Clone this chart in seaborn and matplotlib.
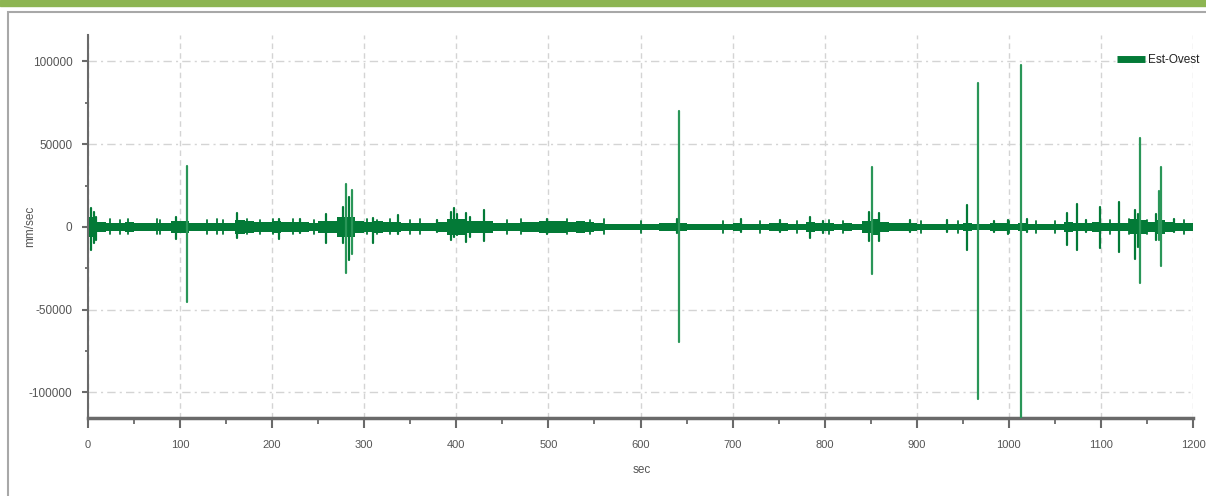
import numpy as np
import pandas as pd
import matplotlib
matplotlib.use('Agg')
import matplotlib.pyplot as plt
from matplotlib.lines import Line2D
from matplotlib.patches import Rectangle
from matplotlib.ticker import MultipleLocator
import seaborn as sns

# half-width of the background noise band, one value per 10 s bin (mm/sec)
bin_start = list(range(0, 1200, 10))
band_half = [
    6000, 3000, 2500, 2500, 3000, 2500, 2500, 2500, 2500, 3500,
    3500, 2500, 2500, 2500, 2500, 2500, 4000, 3500, 3000, 3000,
    3500, 3000, 3000, 3000, 2500, 3500, 3500, 6000, 6000, 3500,
    3000, 3500, 3000, 3000, 2500, 2500, 2500, 2500, 3000, 5000,
    5000, 3500, 3500, 3500, 2500, 2500, 2500, 3000, 3000, 3500,
    3500, 3500, 3000, 3500, 3000, 2500, 2000, 2000, 2000, 2000,
    2000, 2000, 2500, 2500, 2500, 2000, 2000, 2000, 2000, 2000,
    2500, 2000, 2000, 2000, 2500, 2500, 2000, 2000, 3000, 2500,
    2500, 2000, 2500, 2000, 3500, 5000, 3000, 2500, 2500, 2500,
    2000, 2000, 2000, 2000, 2000, 2500, 2000, 2000, 2500, 2500,
    2000, 2500, 2000, 2000, 2000, 2000, 3000, 2500, 2500, 3000,
    2500, 2500, 2500, 4500, 4000, 3000, 4000, 3000, 2500, 2500,
]

# bursts and spikes: time (sec), peak and trough (mm/sec)
event_sec = [3, 6, 9, 96, 107, 162, 207, 230, 259, 277, 280, 283, 287, 310,
             337, 379, 394, 397, 401, 410, 415, 430, 499, 640, 642, 709, 752,
             784, 798, 848, 851, 859, 893, 933, 955, 967, 984, 999, 1013, 1020,
             1063, 1074, 1084, 1099, 1120, 1137, 1140, 1142, 1160, 1163, 1165,
             1179]
event_max = [11500, 9000, 6000, 6000, 37000, 8500, 5000, 5000, 8000, 12000,
             26000, 18000, 22500, 5500, 7000, 4000, 9000, 11500, 8000, 8500,
             6000, 10000, 5000, 5000, 70000, 4500, 4000, 6000, 3500, 9000,
             36000, 8500, 4000, 4000, 13300, 87000, 3500, 4000, 98000, 5000,
             8500, 14000, 4000, 12000, 15000, 10000, 8000, 54000, 8000, 22000,
             36000, 5000]
event_min = [-14000, -10000, -8000, -7500, -45500, -6500, -7500, -3500, -9500,
             -10000, -28000, -20000, -16500, -9500, -4000, -3000, -8000, -6000,
             -5000, -9000, -6000, -8500, -4000, -3500, -69500, -3000, -3000,
             -6500, -3500, -8500, -28500, -8500, -3000, -3000, -14000, -104000,
             -3000, -4000, -118000, -3000, -11000, -14000, -3000, -12600,
             -15000, -19500, -12000, -34000, -8000, -8000, -23500, -3000]

# small bumps on the band
bump_sec = [24, 35, 43, 75, 78, 129, 140, 147, 173, 187, 201, 223, 245, 303,
            314, 328, 350, 361, 455, 470, 520, 545, 560, 600, 690, 730, 770,
            805, 820, 905, 945, 1000, 1030, 1050, 1110, 1130, 1150, 1190]
bump_amp = [4500, 4000, 4500, 4500, 4000, 4000, 4500, 4000, 4500, 4000, 4500,
            4500, 4000, 4500, 4000, 4500, 4000, 4500, 4000, 4500, 4500, 4000,
            4500, 3500, 3500, 3500, 3500, 4000, 3500, 3500, 3500, 3500, 3500,
            3500, 4000, 4500, 4000, 4000]

band_color = '#037a37'
spike_color = '#2a9658'
axis_color = '#6a6a6a'
text_color = '#555555'
grid_color = '#d4d4d4'

sns.set_theme(style='white')
plt.rcParams['font.family'] = ['Liberation Sans', 'DejaVu Sans']
plt.rcParams['axes.unicode_minus'] = False

n_ev = len(event_sec)
events = pd.DataFrame({
    'event': np.repeat(np.arange(n_ev), 2),
    'sec': np.repeat(event_sec, 2),
    'value': np.column_stack([event_min, event_max]).ravel(),
})
peak = np.maximum(np.array(event_max), -np.array(event_min))
events['big'] = np.repeat(peak > 20000, 2)

n_b = len(bump_sec)
bumps = pd.DataFrame({
    'event': np.repeat(np.arange(n_b), 2),
    'sec': np.repeat(bump_sec, 2),
    'value': np.column_stack([-np.array(bump_amp), np.array(bump_amp)]).ravel(),
})

fig = plt.figure(figsize=(12.06, 4.96), dpi=100)
fig.patch.set_facecolor('white')

# page decoration: green band and grey frame
fig.patches.append(Rectangle((0, 1 - 6 / 496), 1, 6 / 496, transform=fig.transFigure,
                             color='#8db552', zorder=0))
fig.patches.append(Rectangle((8 / 1206, -0.05), 1.1, 1.05 - 12 / 496, transform=fig.transFigure,
                             fill=False, edgecolor='#a8a8a8', lw=1.5, zorder=0))

ax = fig.add_axes([88 / 1206, 1 - 418 / 496, (1193 - 88) / 1206, (418 - 35) / 496])
ax.set_facecolor('none')

edges = np.append(bin_start, 1200)
half = np.append(band_half, band_half[-1])
ax.fill_between(edges, -half, half, step='post', color=band_color, lw=0, zorder=2)

sns.lineplot(data=bumps, x='sec', y='value', units='event', estimator=None,
             color=band_color, lw=1.3, ax=ax, legend=False, zorder=3)
sns.lineplot(data=events[~events['big']], x='sec', y='value', units='event', estimator=None,
             color=band_color, lw=1.6, ax=ax, legend=False, zorder=3)
sns.lineplot(data=events[events['big']], x='sec', y='value', units='event', estimator=None,
             color=spike_color, lw=1.6, ax=ax, legend=False, zorder=4)

ax.set_xlim(0, 1200)
ax.set_ylim(-115500, 116000)
ax.set_xticks(range(0, 1201, 100))
ax.set_yticks([-100000, -50000, 0, 50000, 100000])
ax.xaxis.set_minor_locator(MultipleLocator(50))
ax.yaxis.set_minor_locator(MultipleLocator(25000))

ax.set_axisbelow(True)
ax.grid(axis='x', which='major', color=grid_color, lw=1, ls=(0, (4, 3)))
ax.grid(axis='y', which='major', color=grid_color, lw=1, ls=(0, (6, 3, 1.5, 3)))

for s in ['top', 'right']:
    ax.spines[s].set_visible(False)
ax.spines['left'].set_color(axis_color)
ax.spines['left'].set_linewidth(1.5)
ax.spines['bottom'].set_color(axis_color)
ax.spines['bottom'].set_linewidth(2.5)

ax.tick_params(axis='x', which='major', direction='out', length=7, width=1.5,
               color=axis_color, labelcolor=text_color, labelsize=8, pad=8.5, bottom=True)
ax.tick_params(axis='x', which='minor', direction='out', length=4.3, width=1.3,
               color=axis_color, bottom=True)
ax.tick_params(axis='y', which='major', direction='out', length=4.3, width=1.5,
               color=axis_color, labelcolor=text_color, labelsize=8.5, pad=7, left=True)
ax.tick_params(axis='y', which='minor', direction='out', length=2.2, width=1.3,
               color=axis_color, left=True)

ax.set_xlabel('')
ax.set_ylabel('')
fig.text(642 / 1206, 1 - 470 / 496, 'sec', ha='center', va='center', fontsize=8.5, color=text_color)
fig.text(30 / 1206, 1 - 226 / 496, 'mm/sec', ha='center', va='center', rotation=90,
         fontsize=8.5, color=text_color)

handle = Line2D([], [], color=band_color, lw=5, solid_capstyle='butt')
ax.legend(handles=[handle], labels=['Est-Ovest'], loc='center left',
          bbox_to_anchor=(1117 / 1206, 1 - 60 / 496), bbox_transform=fig.transFigure,
          frameon=False, handlelength=2.4, handletextpad=0.25, borderpad=0, borderaxespad=0,
          fontsize=8.5, labelcolor='#222222')

fig.savefig('out.png', dpi=100)
